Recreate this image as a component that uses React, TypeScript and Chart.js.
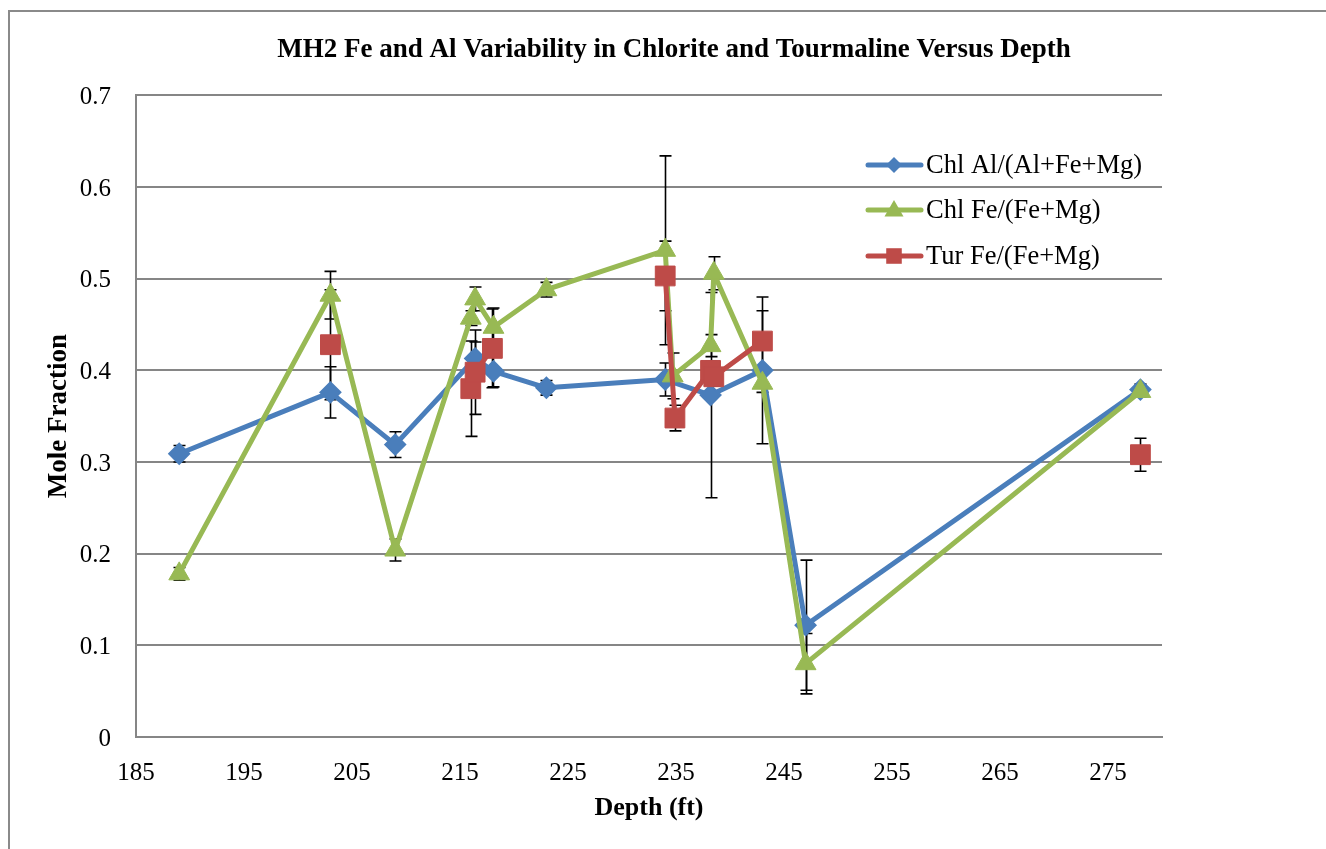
import React, { useEffect, useRef } from 'react';
import { Chart, registerables } from 'chart.js';

Chart.register(...registerables);

const chartTitle = 'MH2 Fe and Al Variability in Chlorite and Tourmaline Versus Depth';
const xTitle = 'Depth (ft)';
const yTitle = 'Mole Fraction';

const xTicks = [185, 195, 205, 215, 225, 235, 245, 255, 265, 275];
const yTicks = [0, 0.1, 0.2, 0.3, 0.4, 0.5, 0.6, 0.7];

const seriesLabels = ['Chl Al/(Al+Fe+Mg)', 'Chl Fe/(Fe+Mg)', 'Tur Fe/(Fe+Mg)'];

const chlAlDepth = [189, 203, 209, 216.4, 218.1, 223, 234, 238.2, 243, 247, 278];
const chlAlValue = [0.309, 0.376, 0.319, 0.413, 0.399, 0.381, 0.39, 0.373, 0.4, 0.122, 0.379];
const chlAlError = [0.009, 0.028, 0.014, 0.018, 0.017, 0.008, 0.018, 0.112, 0.08, 0.071, 0.006];

const chlFeDepth = [189, 203, 209, 216.0, 216.4, 218.1, 223, 234, 234.7, 238.2, 238.5, 243, 247, 278];
const chlFeValue = [0.178, 0.482, 0.204, 0.457, 0.478, 0.447, 0.488, 0.531, 0.394, 0.427, 0.506, 0.386, 0.08, 0.377];
const chlFeError = [0.007, 0.026, 0.012, 0.008, 0.013, 0.021, 0.008, 0.103, 0.025, 0.012, 0.018, 0.01, 0.033, 0.006];

const turFeDepth = [203, 210, 216.0, 216.4, 218.0, 226, 234, 234.9, 238.2, 238.5, 243, 260, 278];
const turFeValue = [0.428, null, 0.38, 0.398, 0.424, null, 0.503, 0.348, 0.4, 0.393, 0.432, null, 0.308];
const turFeError = [0.06, null, 0.052, 0.046, 0.043, null, 0.038, 0.014, 0.01, 0.01, 0.033, null, 0.018];

const BLUE = '#4A7EBB';
const GREEN = '#98B954';
const RED = '#BE4B48';
const GRID = '#868686';
const FONT = "'Liberation Serif', 'Times New Roman', serif";

function toPoints(xs: number[], ys: (number | null)[]) {
  return xs.map((x, i) => ({ x, y: ys[i] }));
}

const errorSets = [chlAlError, chlFeError, turFeError];

const errorBarPlugin = {
  id: 'errorBars',
  beforeDatasetsDraw(chart: any) {
    const ctx = chart.ctx;
    const yScale = chart.scales.y;
    ctx.save();
    ctx.strokeStyle = '#000';
    ctx.lineWidth = 1.6;
    chart.data.datasets.forEach((ds: any, di: number) => {
      const meta = chart.getDatasetMeta(di);
      const errs = errorSets[di];
      ds.data.forEach((p: any, i: number) => {
        const e = errs[i];
        if (p.y == null || e == null) return;
        const el = meta.data[i];
        const x = Math.round(el.x) + 0.5;
        const yt = yScale.getPixelForValue(p.y + e);
        const yb = yScale.getPixelForValue(p.y - e);
        ctx.beginPath();
        ctx.moveTo(x, yt);
        ctx.lineTo(x, yb);
        ctx.moveTo(x - 6, yt);
        ctx.lineTo(x + 6, yt);
        ctx.moveTo(x - 6, yb);
        ctx.lineTo(x + 6, yb);
        ctx.stroke();
      });
    });
    ctx.restore();
  },
};

function drawMarker(ctx: CanvasRenderingContext2D, style: string, x: number, y: number, r: number) {
  ctx.beginPath();
  if (style === 'rectRot') {
    ctx.moveTo(x - r, y);
    ctx.lineTo(x, y - r);
    ctx.lineTo(x + r, y);
    ctx.lineTo(x, y + r);
  } else if (style === 'triangle') {
    ctx.moveTo(x, y - r);
    ctx.lineTo(x + 0.866 * r, y + 0.5 * r);
    ctx.lineTo(x - 0.866 * r, y + 0.5 * r);
  } else {
    const s = r * Math.SQRT1_2;
    ctx.rect(x - s, y - s, 2 * s, 2 * s);
  }
  ctx.closePath();
  ctx.fill();
}

const legendPlugin = {
  id: 'customLegend',
  afterDatasetsDraw(chart: any) {
    const ctx = chart.ctx;
    const rows = [165, 210, 256];
    const styles = ['rectRot', 'triangle', 'rect'];
    const radii = [8, 11, 11];
    ctx.save();
    chart.data.datasets.forEach((ds: any, i: number) => {
      const y = rows[i];
      ctx.strokeStyle = ds.borderColor;
      ctx.fillStyle = ds.borderColor;
      ctx.lineWidth = 5;
      ctx.lineCap = 'round';
      ctx.beginPath();
      ctx.moveTo(868, y);
      ctx.lineTo(921, y);
      ctx.stroke();
      drawMarker(ctx, styles[i], 894, y + (styles[i] === 'triangle' ? 1 : 0), radii[i]);
      ctx.fillStyle = '#000';
      ctx.font = `26.5px ${FONT}`;
      ctx.textBaseline = 'middle';
      ctx.textAlign = 'left';
      ctx.fillText(seriesLabels[i], 926, y + 1);
    });
    ctx.restore();
  },
};

export default function App() {
  const ref = useRef<HTMLCanvasElement | null>(null);
  useEffect(() => {
    if (!ref.current) return;
    Chart.defaults.font.family = FONT;
    const chart = new Chart(ref.current, {
      type: 'line',
      data: {
        datasets: [
          {
            label: seriesLabels[0],
            data: toPoints(chlAlDepth, chlAlValue),
            borderColor: BLUE,
            backgroundColor: BLUE,
            borderWidth: 5,
            pointStyle: 'rectRot',
            pointRadius: 10,
            pointBorderWidth: 2,
            pointBackgroundColor: BLUE,
            pointBorderColor: BLUE,
            tension: 0,
            spanGaps: false,
            borderJoinStyle: 'round',
            order: 3,
          },
          {
            label: seriesLabels[1],
            data: toPoints(chlFeDepth, chlFeValue),
            borderColor: GREEN,
            backgroundColor: GREEN,
            borderWidth: 5,
            pointStyle: 'triangle',
            pointRadius: 12,
            pointBorderWidth: 1,
            pointBackgroundColor: GREEN,
            pointBorderColor: GREEN,
            tension: 0,
            spanGaps: false,
            borderJoinStyle: 'round',
            order: 2,
          },
          {
            label: seriesLabels[2],
            data: toPoints(turFeDepth, turFeValue),
            borderColor: RED,
            backgroundColor: RED,
            borderWidth: 5,
            pointStyle: 'rect',
            pointRadius: 14,
            pointBorderWidth: 1,
            pointBackgroundColor: RED,
            pointBorderColor: RED,
            tension: 0,
            spanGaps: false,
            borderJoinStyle: 'round',
            order: 1,
          },
        ] as any,
      },
      options: {
        animation: false,
        responsive: false,
        devicePixelRatio: 1,
        layout: { padding: 0 },
        plugins: {
          legend: { display: false },
          tooltip: { enabled: false },
          title: {
            display: true,
            text: chartTitle,
            color: '#000',
            font: { size: 27, weight: 'bold', family: FONT },
            padding: { top: 34, bottom: 29 },
          },
        },
        scales: {
          x: {
            type: 'linear',
            position: 'bottom',
            min: 185,
            max: 280,
            afterBuildTicks: (s: any) => {
              s.ticks = xTicks.map((v) => ({ value: v }));
            },
            afterFit: (s: any) => {
              s.height = 112;
            },
            grid: { display: false, drawTicks: false },
            border: { display: true, color: GRID, width: 2 },
            ticks: {
              color: '#000',
              font: { size: 25, family: FONT },
              padding: 21,
              maxRotation: 0,
              autoSkip: false,
              callback: (v: any) => String(v),
            },
            title: {
              display: true,
              text: xTitle,
              color: '#000',
              font: { size: 26, weight: 'bold', family: FONT },
              padding: { top: 0, bottom: 25 },
            },
          },
          y: {
            type: 'linear',
            position: 'left',
            min: 0,
            max: 0.7,
            afterBuildTicks: (s: any) => {
              s.ticks = yTicks.map((v) => ({ value: v }));
            },
            afterFit: (s: any) => {
              s.width = 136;
            },
            grid: { color: GRID, lineWidth: 2, drawTicks: false },
            border: { display: true, color: GRID, width: 2 },
            ticks: {
              color: '#000',
              font: { size: 25, family: FONT },
              padding: 25,
              labelOffset: 2,
              callback: (v: any) => String(Math.round(v * 10) / 10),
            },
            title: {
              display: true,
              text: yTitle,
              color: '#000',
              font: { size: 27, weight: 'bold', family: FONT },
              padding: { top: 43, bottom: 0 },
            },
          },
          y2: {
            type: 'linear',
            position: 'right',
            display: true,
            grid: { display: false, drawTicks: false },
            border: { display: false },
            ticks: { display: false },
            afterFit: (s: any) => {
              s.width = 186;
            },
          },
        },
      } as any,
      plugins: [errorBarPlugin, legendPlugin],
    });
    return () => chart.destroy();
  }, []);

  return (
    <div
      style={{
        position: 'fixed',
        left: 0,
        top: 0,
        width: 1326,
        height: 849,
        overflow: 'hidden',
        background: '#fff',
      }}
    >
      <div
        style={{
          position: 'absolute',
          left: 8,
          top: 10,
          width: 1400,
          height: 900,
          border: '2px solid #8a8a8a',
          boxSizing: 'border-box',
        }}
      />
      <canvas
        ref={ref}
        width={1348}
        height={849}
        style={{ position: 'absolute', left: 0, top: 0, width: 1348, height: 849 }}
      />
    </div>
  );
}
